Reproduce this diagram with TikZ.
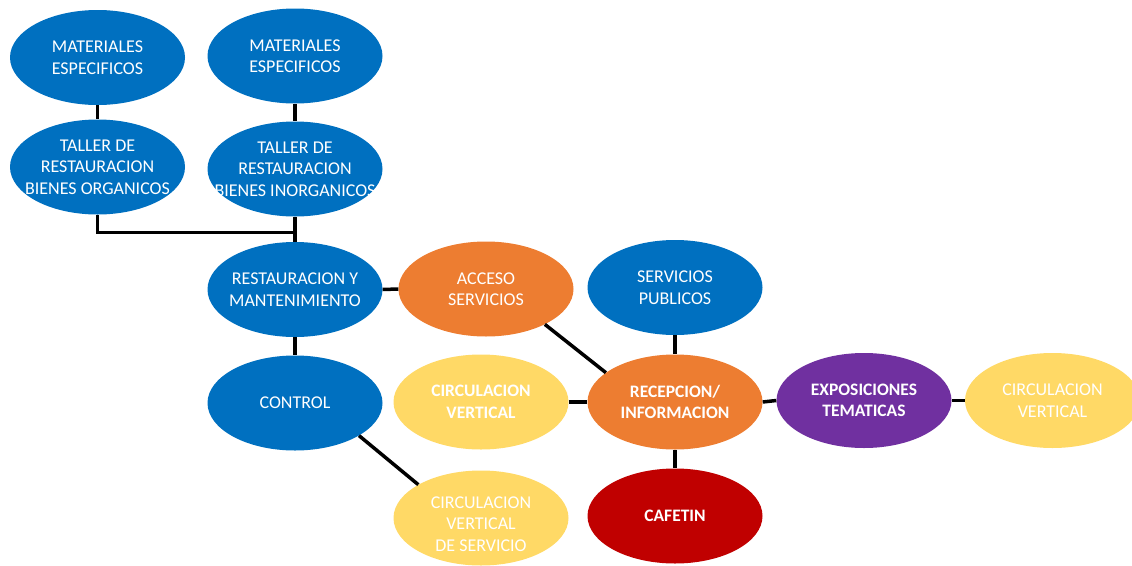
\documentclass[tikz,border=0pt]{standalone}
\usepackage{fontspec}
\setmainfont{Carlito}
\usetikzlibrary{shapes.geometric}
\definecolor{cblue}{HTML}{0070C0}
\definecolor{corange}{HTML}{ED7D31}
\definecolor{cyellow}{HTML}{FFD966}
\definecolor{cpurple}{HTML}{7030A0}
\definecolor{cred}{HTML}{C00000}
\tikzset{
  bubbletext/.style={text=white, align=center, font=\fontsize{18}{21.5}\selectfont},
  bubble/.style={ellipse, minimum width=175pt, minimum height=95pt, inner xsep=-40pt, inner ysep=0pt,
    bubbletext},
  bluebub/.style={bubble, fill=cblue},
  orangebub/.style={bubble, fill=corange},
  yellowbub/.style={bubble, fill=cyellow},
  purplebub/.style={bubble, fill=cpurple},
  redbub/.style={bubble, fill=cred},
  boldtext/.style={font=\fontsize{17.5}{21.5}\selectfont\bfseries},
  link/.style={draw=black, line width=3.5pt}
}
\begin{document}
\begin{tikzpicture}[x=1pt,y=-1pt]
\useasboundingbox (0,0) rectangle (1132,565);
\clip (0,0) rectangle (1132,565);
% nodes
\node[bluebub] (m1) at (97.5,57.5) {MATERIALES\\ESPECIFICOS};
\node[bluebub] (m2) at (295,56) {MATERIALES\\ESPECIFICOS};
\node[bluebub] (t1) at (97.5,167) {TALLER DE\\RESTAURACION\\BIENES ORGANICOS};
\node[bluebub] (t2) at (295,169) {TALLER DE\\RESTAURACION\\BIENES INORGANICOS};
\node[bluebub] (rest) at (295,289.5) {RESTAURACION Y\\MANTENIMIENTO};
\node[orangebub] (acc) at (486,289) {ACCESO\\SERVICIOS};
\node[bluebub] (srv) at (675,287.5) {SERVICIOS\\PUBLICOS};
\node[bluebub] (ctl) at (295,403) {CONTROL};
\node[yellowbub, boldtext] (cv) at (481,402) {CIRCULACION\\VERTICAL};
\node[orangebub, boldtext] (rec) at (675,402) {RECEPCION/\\INFORMACION};
\node[purplebub, boldtext] (expo) at (864,400.5) {EXPOSICIONES\\TEMATICAS};
\node[yellowbub] (cv2) at (1052.5,400.5) {CIRCULACION\\VERTICAL};
\node[redbub, boldtext] (caf) at (675,516) {CAFETIN};
\node[yellowbub, label={[bubbletext, yshift=-6pt]center:{CIRCULACION\\VERTICAL\\DE SERVICIO}}] (cvs) at (481,518) {};
% connectors
\coordinate (j) at (295,232.5);
\draw[link] (m1.south) -- (t1.north);
\draw[link] (m2.south) -- (t2.north);
\draw[link] (t1.south) |- (j);
\draw[link] (t2.south) -- (rest.north);
\draw[link] (rest.east) -- (acc.west);
\draw[link] (rest.south) -- (ctl.north);
\draw[link] (acc.-31) -- (rec.157);
\draw[link] (srv.south) -- (rec.north);
\draw[link] (cv.east) -- (rec.west);
\draw[link] (rec.east) -- (expo.west);
\draw[link] (expo.east) -- (cv2.west);
\draw[link] (rec.south) -- (caf.north);
\draw[link] (ctl.-27) -- (cvs.152);
\end{tikzpicture}
\end{document}
